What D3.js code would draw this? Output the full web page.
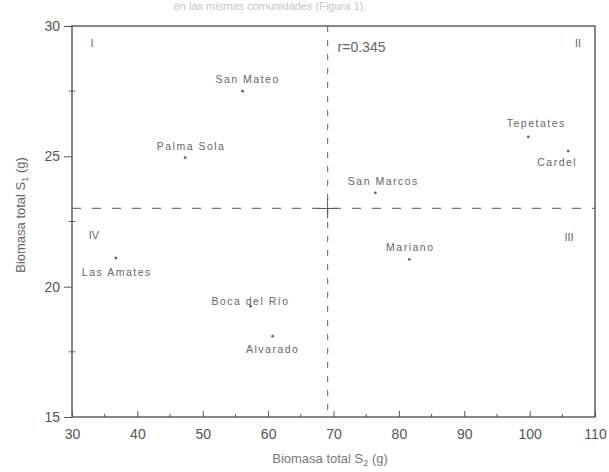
<!DOCTYPE html>
<html>
<head>
<meta charset="utf-8">
<style>
  body { margin: 0; background: #fff; }
  svg text { font-family: "Liberation Sans", Arial, sans-serif; fill: #555; }
</style>
<script src="https://cdn.jsdelivr.net/npm/d3@7"></script>
</head>
<body>
<svg width="609" height="472"></svg>
<script>
// data
var sites = ["San Mateo", "Palma Sola", "San Marcos", "Tepetates", "Cardel",
             "Mariano", "Las Amates", "Boca del Río", "Alvarado"];
var s2 = [56.1, 47.3, 76.4, 99.8, 105.9, 81.6, 36.7, 57.3, 60.7];
var s1 = [27.5, 24.95, 23.6, 25.75, 25.2, 21.05, 21.1, 19.25, 18.1];
var meanS2 = 69.1, meanS1 = 23.0;
var xTicks = [30, 40, 50, 60, 70, 80, 90, 100, 110];
var yTicks = [15, 20, 25, 30];
var quadrants = ["I", "II", "III", "IV"];
var rText = "r=0.345";

var svg = d3.select("svg");
var x = d3.scaleLinear().domain([30, 110]).range([72, 595]);
var y = d3.scaleLinear().domain([15, 30]).range([417, 26]);
var ink = "#555";

// faint caption line at the top of the scan
svg.append("text").attr("x", 270).attr("y", 10).attr("text-anchor", "middle")
  .style("font-size", "11px").style("fill", "#c4c4c4")
  .text("en las mismas comunidades (Figura 1).");

// frame
svg.append("rect")
  .attr("x", x(30)).attr("y", y(30))
  .attr("width", x(110) - x(30)).attr("height", y(15) - y(30))
  .style("fill", "none").style("stroke", ink).style("stroke-width", 1.4);

// bottom axis, ticks pointing inward
var xAxis = d3.axisBottom(x).tickValues(xTicks).tickSize(-6).tickPadding(12);
var gx = svg.append("g").attr("transform", "translate(0," + y(15) + ")").call(xAxis);
gx.select(".domain").remove();
gx.selectAll("line").style("stroke", ink);
gx.selectAll("text").style("font-size", "14px").style("fill", ink)
  .style("font-family", "'Liberation Sans', Arial, sans-serif");
// minor ticks
svg.selectAll(".xminor").data(d3.range(35, 110, 10)).enter().append("line")
  .attr("x1", function(d) { return x(d); }).attr("x2", function(d) { return x(d); })
  .attr("y1", y(15)).attr("y2", y(15) - 3)
  .style("stroke", ink);

// left axis
var yAxis = d3.axisLeft(y).tickValues(yTicks).tickSize(8).tickPadding(4);
var gy = svg.append("g").attr("transform", "translate(" + x(30) + ",0)").call(yAxis);
gy.select(".domain").remove();
gy.selectAll("line").style("stroke", ink);
gy.selectAll("text").style("font-size", "14px").style("fill", ink)
  .style("font-family", "'Liberation Sans', Arial, sans-serif");
svg.selectAll(".yminor").data([17.5, 22.5, 27.5]).enter().append("line")
  .attr("x1", x(30) - 3).attr("x2", x(30) + 3)
  .attr("y1", function(d) { return y(d); }).attr("y2", function(d) { return y(d); })
  .style("stroke", ink);

// mean lines
svg.append("line")
  .attr("x1", x(30)).attr("x2", x(110))
  .attr("y1", y(meanS1)).attr("y2", y(meanS1))
  .style("stroke", "#777").style("stroke-width", 1.2).style("stroke-dasharray", "9,11");
svg.append("line")
  .attr("x1", x(meanS2)).attr("x2", x(meanS2))
  .attr("y1", y(30)).attr("y2", y(15))
  .style("stroke", "#777").style("stroke-width", 1.2).style("stroke-dasharray", "6,8");
// small cross at the means
svg.append("line")
  .attr("x1", x(meanS2) - 10).attr("x2", x(meanS2) + 10)
  .attr("y1", y(meanS1)).attr("y2", y(meanS1)).style("stroke", ink);
svg.append("line")
  .attr("x1", x(meanS2)).attr("x2", x(meanS2))
  .attr("y1", y(meanS1) - 10).attr("y2", y(meanS1) + 10).style("stroke", ink);

// where each name sits relative to its point
var labelPlace = {
  "San Mateo":   [5, -8],
  "Palma Sola":  [6, -8],
  "San Marcos":  [8, -8],
  "Tepetates":   [8, -10],
  "Cardel":      [-11, 15],
  "Mariano":     [1, -8],
  "Las Amates":  [1, 18],
  "Boca del Río":[0, -1],
  "Alvarado":    [0, 17]
};

svg.selectAll("circle.pt").data(sites).enter().append("circle")
  .attr("class", "pt")
  .attr("cx", function(d, i) { return x(s2[i]); })
  .attr("cy", function(d, i) { return y(s1[i]); })
  .attr("r", 1.4)
  .style("fill", "#666");

svg.selectAll("text.site").data(sites).enter().append("text")
  .attr("class", "site")
  .attr("x", function(d, i) { return x(s2[i]) + labelPlace[d][0]; })
  .attr("y", function(d, i) { return y(s1[i]) + labelPlace[d][1]; })
  .attr("text-anchor", "middle")
  .style("font-size", "10.5px").style("letter-spacing", "1.5px").style("fill", "#666")
  .text(function(d) { return d; });

// quadrant numerals and r
var qPos = [[30, 30], [110, 30], [110, meanS1], [30, meanS1]];
var qOff = [[20, 21], [-17, 21], [-26, 33], [22, 31]];
svg.selectAll("text.quad").data(quadrants).enter().append("text")
  .attr("class", "quad")
  .attr("x", function(d, i) { return x(qPos[i][0]) + qOff[i][0]; })
  .attr("y", function(d, i) { return y(qPos[i][1]) + qOff[i][1]; })
  .attr("text-anchor", "middle")
  .style("font-size", "11px").style("fill", "#666")
  .text(function(d) { return d; });

svg.append("text").attr("x", x(meanS2) + 10).attr("y", y(30) + 26)
  .style("font-size", "14px").style("fill", "#666").text(rText);

// axis titles
var xt = svg.append("text").attr("x", 330).attr("y", 463).attr("text-anchor", "middle")
  .style("font-size", "13px").style("fill", "#777");
xt.append("tspan").text("Biomasa total S");
xt.append("tspan").attr("dy", 3).style("font-size", "9px").text("2");
xt.append("tspan").attr("dy", -3).text(" (g)");

var yt = svg.append("text").attr("transform", "translate(25,215) rotate(-90)")
  .attr("text-anchor", "middle")
  .style("font-size", "13px").style("fill", "#666");
yt.append("tspan").text("Biomasa total S");
yt.append("tspan").attr("dy", 3).style("font-size", "9px").text("1");
yt.append("tspan").attr("dy", -3).text(" (g)");
</script>
</body>
</html>
